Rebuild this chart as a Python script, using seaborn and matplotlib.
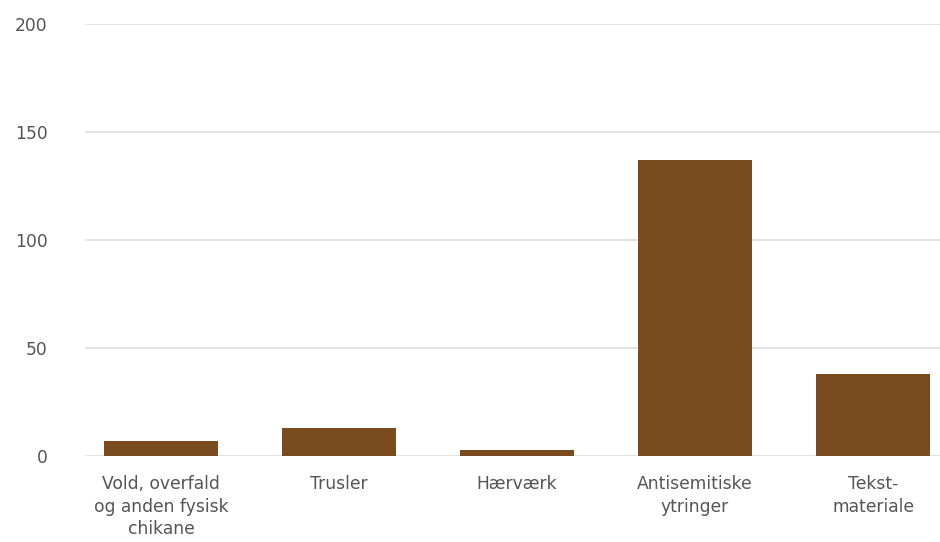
import matplotlib
matplotlib.use("Agg")
import matplotlib.pyplot as plt
import seaborn as sns
import pandas as pd

categories = ["Vold, overfald\nog anden fysisk\nchikane", "Trusler", "Hærværk",
              "Antisemitiske\nytringer", "Tekst-\nmateriale"]
values = [7, 13, 3, 137, 38]
yticks = [0, 50, 100, 150, 200]

sns.set_theme(style="white")
plt.rcParams["font.family"] = ["DejaVu Sans"]

df = pd.DataFrame({"cat": categories, "val": values})

fig = plt.figure(figsize=(9.4, 5.42), dpi=100)
ax = fig.add_axes([85/940, 1-456/542, 1-85/940, (456-24)/542])
sns.barplot(data=df, x="cat", y="val", color="#7A4B1F", width=0.64,
            saturation=1, ax=ax, edgecolor="none")

ax.set_ylim(0, 200)
ax.set_xlim(-0.427, 4.376)
ax.set_yticks(yticks)
ax.set_yticklabels([str(t) for t in yticks])
ax.yaxis.grid(True, color="#dedede", linewidth=1.2)
ax.set_axisbelow(True)
for s in ax.spines.values():
    s.set_visible(False)
ax.set_xlabel("")
ax.set_ylabel("")
ax.tick_params(axis="y", length=0, pad=27, labelsize=12.3, labelcolor="#555555")
ax.tick_params(axis="x", length=0, pad=14, labelsize=12.3, labelcolor="#555555")
for lab in ax.get_xticklabels():
    lab.set_linespacing(1.3)

fig.savefig("out.png", dpi=100)
